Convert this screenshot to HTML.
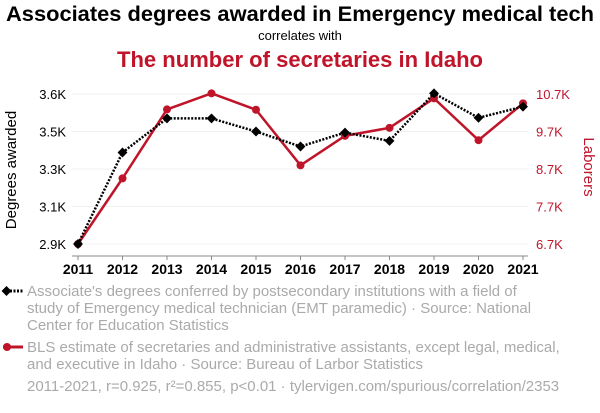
<!DOCTYPE html>
<html><head><meta charset="utf-8"><style>
body{margin:0;background:#fff;width:600px;height:408px;overflow:hidden;font-family:"Liberation Sans",sans-serif}
</style></head><body>
<svg width="600" height="408" xmlns="http://www.w3.org/2000/svg" font-family="Liberation Sans, sans-serif">
<text x="300" y="21" text-anchor="middle" font-size="21" font-weight="bold" fill="#000" textLength="588" lengthAdjust="spacingAndGlyphs">Associates degrees awarded in Emergency medical tech</text>
<text x="300" y="40" text-anchor="middle" font-size="13" fill="#000">correlates with</text>
<text x="300" y="67" text-anchor="middle" font-size="22" font-weight="bold" fill="#c0142a" textLength="366" lengthAdjust="spacingAndGlyphs">The number of secretaries in Idaho</text>
<g id="grid"></g>
<g id="axes"></g>
<g id="series"></g>
<text transform="translate(16,170) rotate(-90)" text-anchor="middle" font-size="15" fill="#000">Degrees awarded</text>
<text transform="translate(584,167) rotate(90)" text-anchor="middle" font-size="15" fill="#c0142a">Laborers</text>
<g>
<line x1="3" y1="291" x2="23" y2="291" stroke="#000" stroke-width="3" stroke-dasharray="2,1.5"/>
<rect x="3" y="287.5" width="7" height="7" transform="rotate(45 6.5 291)" fill="#000"/>
<text font-size="15" fill="#aaa"><tspan x="27" y="296">Associate's degrees conferred by postsecondary institutions with a field of</tspan><tspan x="27" y="313">study of Emergency medical technician (EMT paramedic) · Source: National</tspan><tspan x="27" y="330">Center for Education Statistics</tspan></text>
</g>
<g>
<line x1="3" y1="347" x2="23" y2="347" stroke="#c0142a" stroke-width="3"/>
<circle cx="7" cy="347" r="4" fill="#c0142a"/>
<text font-size="15" fill="#aaa"><tspan x="27" y="352">BLS estimate of secretaries and administrative assistants, except legal, medical,</tspan><tspan x="27" y="369">and executive in Idaho · Source: Bureau of Larbor Statistics</tspan></text>
</g>
<text x="27" y="391" font-size="15" fill="#aaa">2011-2021, r=0.925, r²=0.855, p&lt;0.01 · tylervigen.com/spurious/correlation/2353</text>
</svg>
<script>
const years=[2011,2012,2013,2014,2015,2016,2017,2018,2019,2020,2021];
const degrees=[2900,3327,3486,3486,3425,3355,3420,3381,3603,3489,3541];
const secretaries=[6700,8450,10289,10718,10280,8798,9584,9798,10584,9468,10450];
const leftTicks=[2900,3075,3250,3425,3600];
const leftLabels=["2.9K","3.1K","3.3K","3.5K","3.6K"];
const rightTicks=[6700,7700,8700,9700,10700];
const rightLabels=["6.7K","7.7K","8.7K","9.7K","10.7K"];
const NS="http://www.w3.org/2000/svg";
const x=v=>78+(v-2011)*44.5;
const yl=v=>244-(v-2900)/700*150;
const yr=v=>244-(v-6700)/4000*150;
function mk(t,a,p){const e=document.createElementNS(NS,t);for(const k in a)e.setAttribute(k,a[k]);p.appendChild(e);return e;}
const grid=document.getElementById('grid'),axes=document.getElementById('axes'),ser=document.getElementById('series');
leftTicks.forEach((t,i)=>{
const g=mk('line',{x1:72,x2:528,y1:yl(t),y2:yl(t),stroke:'#f0f0f0','stroke-width':1},grid);


const l=mk('text',{x:66,y:yl(t)+5,'text-anchor':'end','font-size':13,fill:'#000'},axes);l.textContent=leftLabels[i];


});
rightTicks.forEach((t,i)=>{
const l=mk('text',{x:536,y:yr(t)+5,'font-size':13,fill:'#c0142a'},axes);l.textContent=rightLabels[i];


});
const ax=mk('line',{x1:72,x2:528,y1:256,y2:256,stroke:'#888','stroke-width':1},axes);


years.forEach(yv=>{
mk('line',{x1:x(yv),x2:x(yv),y1:256,y2:260,stroke:'#888'},axes);
const l=mk('text',{x:x(yv),y:274,'text-anchor':'middle','font-size':14,'font-weight':'bold',fill:'#000'},axes);l.textContent=yv;


});
const rp=mk('polyline',{points:years.map((yv,i)=>x(yv)+','+yr(secretaries[i])).join(' '),fill:'none',stroke:'#c0142a','stroke-width':2.5},ser);


years.forEach((yv,i)=>{const c=mk('circle',{cx:x(yv),cy:yr(secretaries[i]),r:4,fill:'#c0142a'},ser);

});
const bp=mk('polyline',{points:years.map((yv,i)=>x(yv)+','+yl(degrees[i])).join(' '),fill:'none',stroke:'#000','stroke-width':2.5,'stroke-dasharray':'2,1.5'},ser);


years.forEach((yv,i)=>{const cx=x(yv),cy=yl(degrees[i]);const d=mk('rect',{x:cx-3.5,y:cy-3.5,width:7,height:7,fill:'#000',transform:`rotate(45 ${cx} ${cy})`},ser);

});
</script>
</body></html>
